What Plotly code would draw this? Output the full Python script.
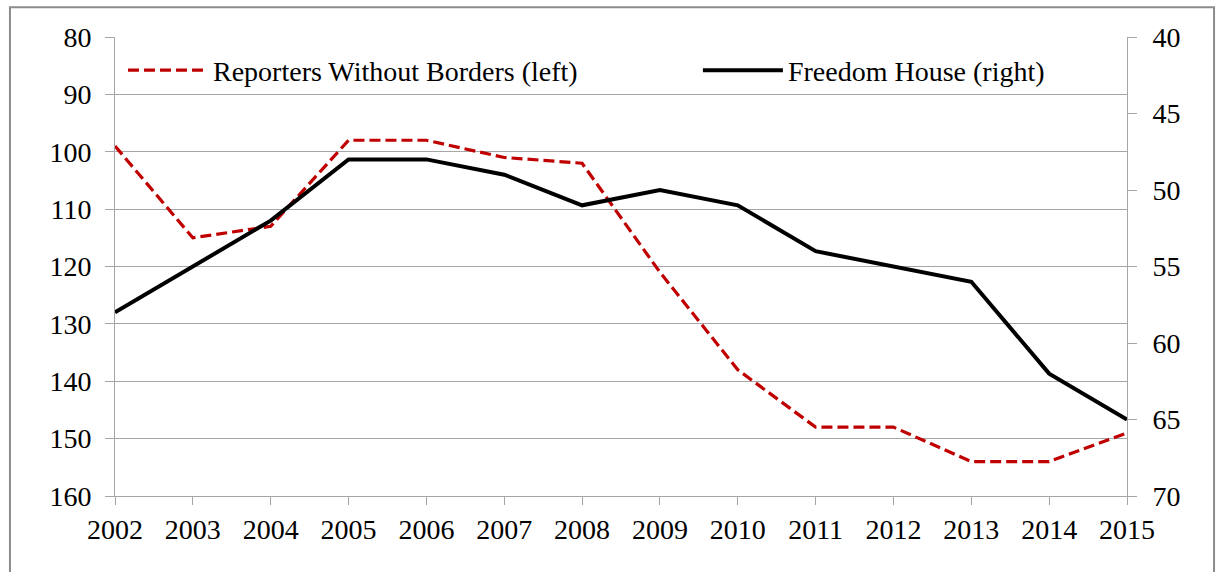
import plotly.graph_objects as go

years = [2002, 2003, 2004, 2005, 2006, 2007, 2008, 2009, 2010, 2011, 2012, 2013, 2014, 2015]
rwb_rank = [99, 115, 113, 98, 98, 101, 102, 121, 138, 148, 148, 154, 154, 149]
fh_score = [58, 55, 52, 48, 48, 49, 51, 50, 51, 54, 55, 56, 62, 65]

left_ticks = [80, 90, 100, 110, 120, 130, 140, 150, 160]
right_ticks = [40, 45, 50, 55, 60, 65, 70]

FONT = "'Times New Roman', 'Liberation Serif', 'DejaVu Serif', serif"
FS = 28
GRID = "#a6a6a6"

fig = go.Figure()
fig.add_trace(go.Scatter(
    x=years, y=rwb_rank, mode="lines", name="Reporters Without Borders (left)",
    line=dict(color="#c00000", width=3.2, dash="11px,5px"), yaxis="y", legend="legend",
))
fig.add_trace(go.Scatter(
    x=years, y=fh_score, mode="lines", name="Freedom House (right)",
    line=dict(color="#000000", width=4), yaxis="y2", legend="legend2",
))

leg_common = dict(orientation="h", yanchor="middle", xanchor="left",
                  bgcolor="rgba(255,255,255,0)", itemwidth=80,
                  font=dict(family=FONT, size=FS, color="#000"))

fig.update_layout(
    width=1219, height=572,
    margin=dict(l=115, r=92, t=37, b=76),
    paper_bgcolor="white", plot_bgcolor="white",
    font=dict(family=FONT, size=FS, color="#000"),
    showlegend=True,
    legend=dict(x=0.0079, y=0.927, **leg_common),
    legend2=dict(x=0.576, y=0.927, **leg_common),
    xaxis=dict(range=[2002, 2015], tickmode="array", tickvals=years,
               ticktext=[str(y) for y in years], showgrid=False,
               showline=True, linecolor=GRID, linewidth=1,
               ticks="outside", ticklen=8, tickcolor=GRID, zeroline=False,
               automargin=False, tickfont=dict(family=FONT, size=FS)),
    yaxis=dict(range=[160, 80], tickmode="array", tickvals=left_ticks,
               showgrid=True, gridcolor=GRID, gridwidth=1,
               showline=True, linecolor=GRID, linewidth=1,
               ticks="outside", ticklen=9, tickcolor=GRID, zeroline=False,
               automargin=False, tickfont=dict(family=FONT, size=FS),
               ticklabelstandoff=8),
    yaxis2=dict(range=[70, 40], tickmode="array", tickvals=right_ticks,
                overlaying="y", side="right", showgrid=False,
                showline=True, linecolor=GRID, linewidth=1,
                ticks="outside", ticklen=9, tickcolor=GRID, zeroline=False,
                automargin=False, tickfont=dict(family=FONT, size=FS),
                ticklabelstandoff=10),
    shapes=[dict(type="rect", xref="paper", yref="paper",
                 x0=-0.1038, x1=1.086, y0=-0.19, y1=1.065,
                 line=dict(color="#8c8c8c", width=2), fillcolor="rgba(0,0,0,0)",
                 layer="below")],
)

fig.write_html("out.html", config={"displayModeBar": False},
               post_script="document.body.style.margin='0';")
